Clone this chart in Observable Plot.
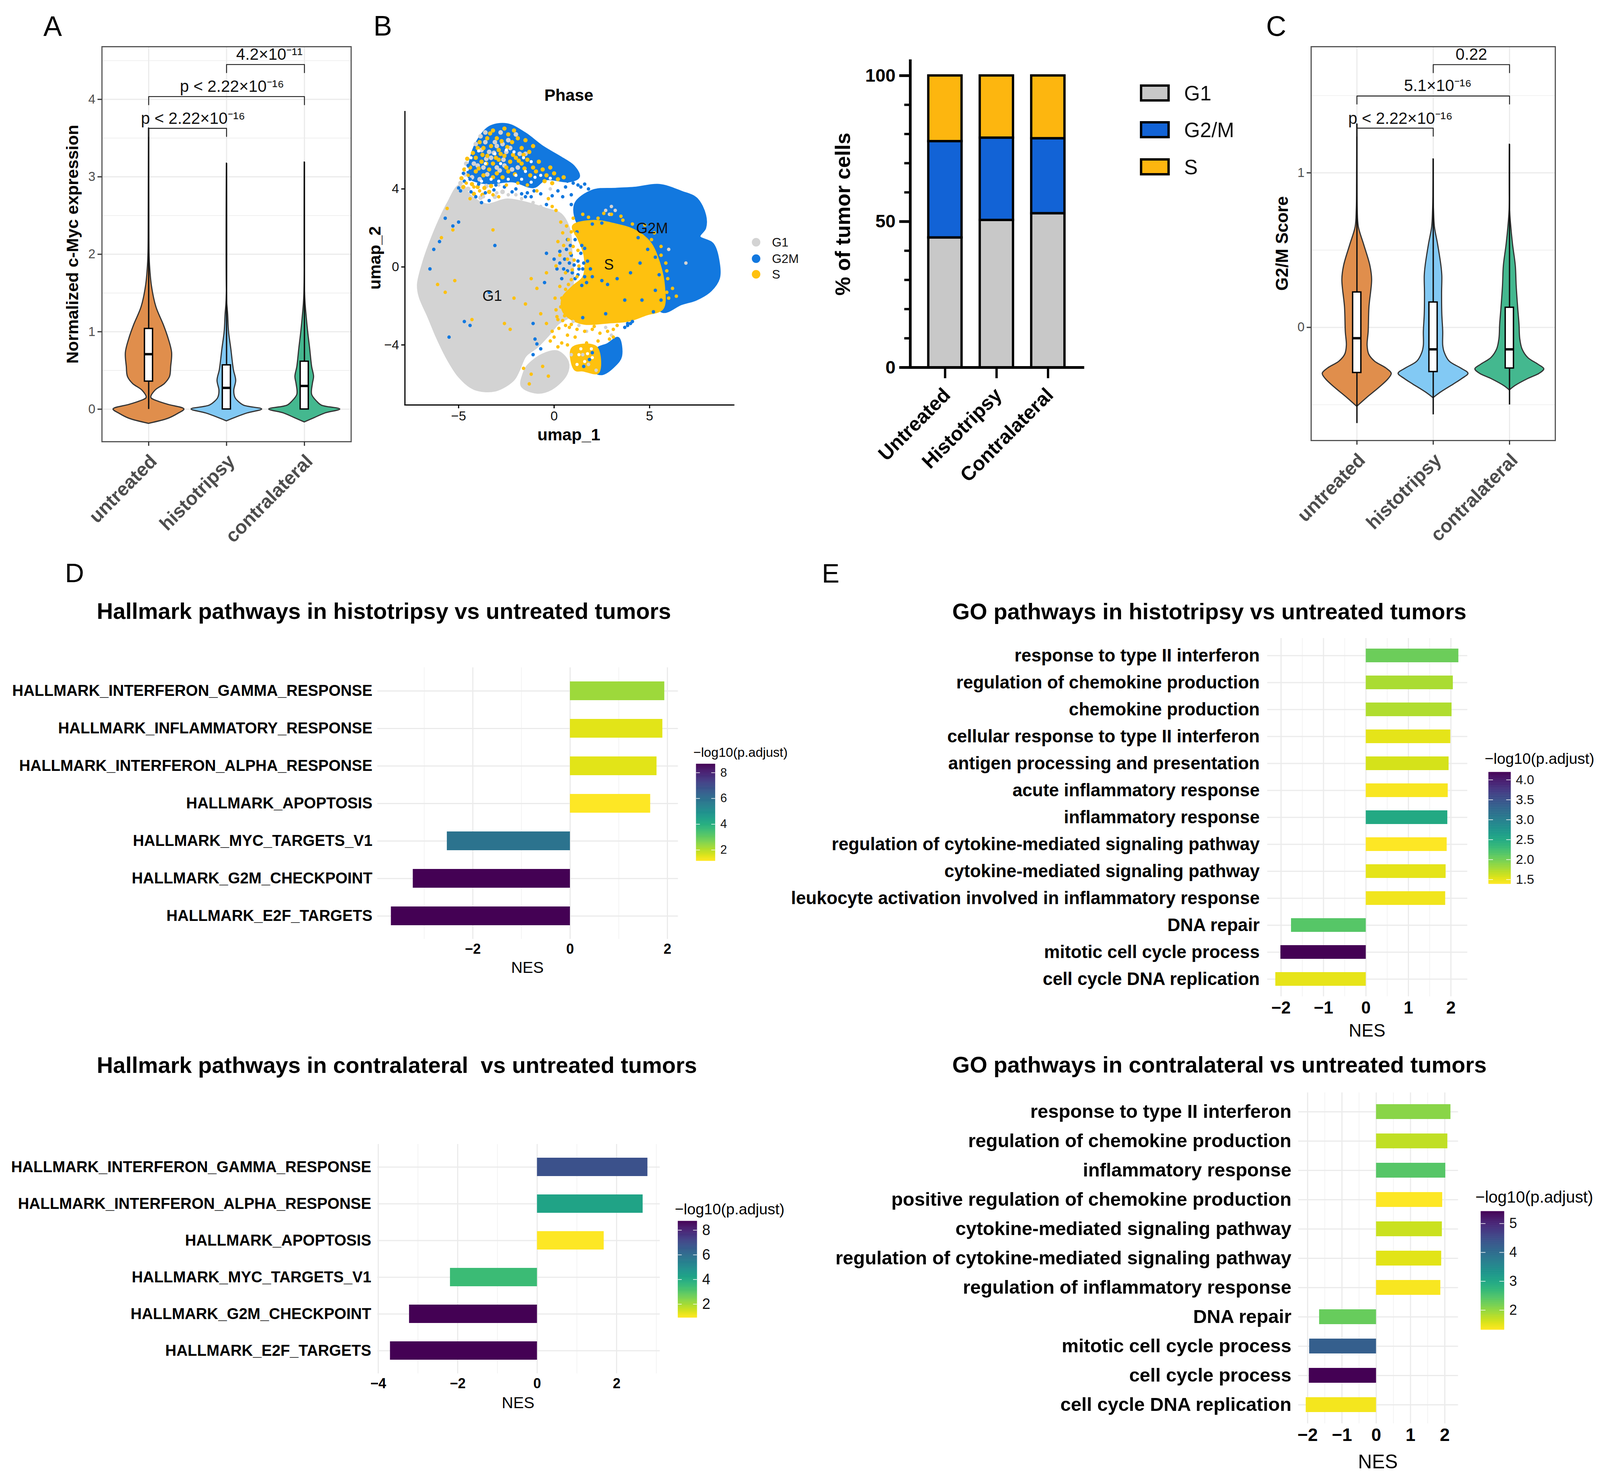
<!DOCTYPE html>
<html>
<head>
<meta charset="utf-8">
<script src="https://cdn.jsdelivr.net/npm/d3@7"></script>
<script src="https://cdn.jsdelivr.net/npm/@observablehq/plot@0.6"></script>
<style>
html,body{margin:0;padding:0;background:#fff;overflow:hidden}
#page{position:relative;width:4135px;height:3793px;overflow:hidden;font-family:"Liberation Sans",Arial,sans-serif;color:#000;transform-origin:0 0}
.lab{position:absolute;white-space:pre;line-height:1}
</style>
</head>
<body>
<div id="page"></div>
<script>
/* ---------- Violins: treatment groups ---------- */
const violinGroups = ["untreated","histotripsy","contralateral"];
const violinColors = ["#E08E4C","#82C9F4","#44B88F"];

/* Panel A: c-Myc expression, value and half-width of each violin */
const mycUntreatedV = [-0.185,-0.12,-0.06,0,0.06,0.10,0.15,0.24,0.33,0.42,0.55,0.73,0.91,1.09,1.32,1.59,1.86,2.04,2.6,3.63];
const mycUntreatedW = [0,0.25,0.37,0.455,0.25,0.125,0.03,0.08,0.205,0.27,0.285,0.297,0.253,0.19,0.095,0.038,0.013,0.006,0.003,0];
const mycHistoV = [-0.153,-0.10,-0.05,0,0.05,0.10,0.15,0.24,0.37,0.51,0.78,1.0,1.23,1.41,3.175];
const mycHistoW = [0,0.13,0.27,0.453,0.22,0.15,0.11,0.095,0.12,0.09,0.057,0.028,0.016,0.003,0];
const mycContraV = [-0.167,-0.11,-0.05,0,0.05,0.10,0.19,0.33,0.42,0.55,0.78,1.0,1.23,1.45,3.19];
const mycContraW = [0,0.13,0.27,0.456,0.22,0.16,0.095,0.105,0.12,0.095,0.07,0.044,0.022,0.006,0];
const mycWhiskerLow = [0,0,0];
const mycWhiskerHigh = [3.63,3.175,3.19];
const mycQ1 = [0.36,0,0];
const mycMedian = [0.71,0.275,0.30];
const mycQ3 = [1.04,0.57,0.617];
const mycBracketFrom = [1,1,2];
const mycBracketTo = [2,3,3];
const mycBracketY = [3.626,4.036,4.45];
const mycBracketLabels = ["p < 2.22×10⁻¹⁶","p < 2.22×10⁻¹⁶","4.2×10⁻¹¹"];
const mycBracketLabelX = [1.57,2.07,2.55];
const mycBracketLabelY = [3.75,4.165,4.58];

/* Panel C: G2/M score */
const scoreUntreatedV = [-0.512,-0.456,-0.388,-0.332,-0.298,-0.264,-0.219,-0.174,-0.117,-0.027,0.13,0.31,0.40,0.537,0.65,0.76,0.94,1.316];
const scoreUntreatedW = [0,0.127,0.293,0.413,0.452,0.383,0.232,0.157,0.136,0.15,0.16,0.195,0.172,0.09,0.021,0.006,0.002,0];
const scoreHistoV = [-0.456,-0.42,-0.366,-0.332,-0.298,-0.264,-0.219,-0.16,-0.117,-0.027,0.086,0.22,0.334,0.40,0.537,0.65,0.76,0.85,1.09];
const scoreHistoW = [0,0.097,0.271,0.377,0.458,0.362,0.211,0.145,0.127,0.127,0.115,0.112,0.115,0.103,0.06,0.018,0.006,0.002,0];
const scoreContraV = [-0.406,-0.377,-0.332,-0.298,-0.269,-0.24,-0.196,-0.14,-0.072,0.018,0.13,0.266,0.40,0.537,0.673,0.76,1.185];
const scoreContraW = [0,0.075,0.241,0.392,0.452,0.377,0.241,0.166,0.136,0.127,0.109,0.09,0.078,0.042,0.015,0.003,0];
const scoreWhiskerLow = [-0.62,-0.564,-0.50];
const scoreWhiskerHigh = [1.316,1.09,1.185];
const scoreQ1 = [-0.293,-0.287,-0.264];
const scoreMedian = [-0.07,-0.142,-0.142];
const scoreQ3 = [0.228,0.163,0.129];
const scoreBracketFrom = [1,1,2];
const scoreBracketTo = [2,3,3];
const scoreBracketY = [1.289,1.497,1.70];
const scoreBracketLabels = ["p < 2.22×10⁻¹⁶","5.1×10⁻¹⁶","0.22"];
const scoreBracketLabelX = [1.57,2.06,2.5];
const scoreBracketLabelY = [1.352,1.562,1.765];

/* ---------- Panel B: UMAP ---------- */
const phaseNames = ["G1","G2M","S"];
const phaseColors = ["#D3D3D3","#1278DF","#FEC10F"];
const umapGreyBody = [[-7.12,-0.89],[-6.81,0.34],[-6.42,1.41],[-6.03,2.33],[-5.57,3.25],[-4.95,4.17],[-4.33,3.6],[-3.55,3.2],[-2.47,3.45],[-1.53,3.3],[-0.45,2.98],[0.35,2.7],[0.8,1.9],[0.9,0.8],[1.0,-0.4],[0.9,-1.5],[0.8,-2.5],[0.2,-2.9],[-0.22,-3.4],[-0.9,-4.1],[-1.5,-4.55],[-1.85,-5.3],[-2.15,-5.8],[-3.09,-6.33],[-4.17,-6.25],[-4.95,-5.64],[-5.57,-4.72],[-6.11,-3.65],[-6.57,-2.57],[-7.04,-1.5]];
const umapGreyLobe = [[-1.4,-5.1],[-0.6,-4.5],[0.17,-4.34],[0.71,-4.87],[0.64,-5.49],[-0.14,-6.25],[-0.91,-6.44],[-1.69,-6.1],[-1.6,-5.5]];
const umapBlueBody = [[1.1,3.2],[2.0,3.9],[3.27,4.0],[4.2,4.05],[5.5,4.2],[6.65,3.85],[7.45,3.5],[7.9,2.65],[7.9,2.0],[7.6,1.55],[8.3,1.18],[8.62,0.18],[8.62,-0.58],[8.2,-1.2],[7.45,-1.66],[6.65,-1.9],[5.7,-2.3],[5.0,-1.5],[3.5,1.0],[1.4,2.0]];
const umapYellowBody = [[1.0,2.1],[2.0,2.35],[3.1,2.2],[4.2,1.87],[5.0,1.26],[5.5,0.18],[5.75,-1.04],[5.67,-2.13],[4.8,-2.44],[3.9,-2.75],[2.95,-2.83],[1.57,-2.9],[0.8,-2.6],[0.45,-2.2],[0.45,-1.6],[1.0,-1.0],[1.55,-0.5],[1.6,0.6],[1.3,1.4]];
const umapLobeBlue = [[-4.4,5.4],[-4.09,6.31],[-3.4,7.16],[-2.47,7.31],[-1.53,6.85],[-0.6,6.16],[0.33,5.62],[1.02,5.16],[1.29,4.63],[0.79,4.4],[-0.45,4.5],[-1.07,4.1],[-2.16,4.4],[-3.55,4.3],[-4.48,4.63]];
const umapLowerBlue = [[3.35,-3.65],[3.5,-4.57],[3.19,-5.03],[2.5,-5.49],[2.11,-5.33],[2.19,-4.26],[2.81,-3.96]];
const umapLowerYellow = [[0.95,-4.18],[2.19,-4.11],[2.3,-5.41],[1.5,-5.3],[1.1,-5.26]];

const umapLobeYellow = [[-3.9,6.4],[-3.7,6.1],[-3.5,6.6],[-3.2,7.0],[-3.3,6.2],[-3.0,6.6],[-2.9,6.0],[-2.6,7.1],[-2.4,6.8],[-2.2,6.4],[-2.1,7.0],[-1.9,6.6],[-1.7,6.1],[-1.5,6.5],[-1.3,5.9],[-1.1,6.2],[-4.1,5.6],[-3.8,5.4],[-3.5,5.7],[-3.2,5.3],[-2.9,5.5],[-2.6,5.7],[-2.3,5.4],[-2.0,5.6],[-1.7,5.3],[-1.4,5.5],[-1.1,5.1],[-0.8,5.4],[-4.4,5.1],[-4.1,4.9],[-3.7,4.7],[-3.4,5.0],[-3.0,4.8],[-2.7,4.6],[-2.4,4.9],[-0.6,5.0],[-0.4,4.7],[-0.2,5.1],[0,4.8],[0.2,4.5],[-0.1,4.3],[-0.5,4.4],[0.5,4.6],[-4.0,6.1],[-3.75,5.75],[-4.25,5.85],[-3.35,6.85],[-2.75,6.45],[-2.45,6.15],[-2.8,5.8],[-3.05,5.6],[-2.15,5.75],[-1.85,5.45],[-1.6,5.75],[-3.95,5.05],[-3.55,5.3],[-3.2,4.6],[-2.5,5.1],[-2.05,4.75],[-1.55,5.05],[-1.25,4.7],[-0.95,4.9],
[-4.7,5.0],[-4.55,5.55],[-4.85,4.55],[-4.75,4.1],[-4.3,4.25],[-4.0,4.1],[-3.65,4.05],[-3.3,4.15],[-4.2,3.75],[-3.75,3.7],[-3.4,3.85]];
const umapLobeGrey = [[-3.8,6.0],[-3.6,6.4],[-3.4,5.9],[-3.1,6.4],[-2.8,6.9],[-2.7,6.3],[-2.5,5.9],[-2.3,6.1],[-2,6.8],[-1.8,5.8],[-4,5.2],[-3.7,5.1],[-3.3,5.6],[-3,5.1],[-2.6,5.2],[-2.2,5],[-1.9,5.1],[-1.5,5.8],[-4.2,5.3],[-3.6,6.9],[-3.0,6.2],[-2.4,6.5],[-4.1,6.3],[-3.85,6.7],[-3.55,5.55],[-3.15,5.85],[-2.65,5.5],[-2.85,4.95],[-3.5,4.75],[-4.3,4.6],[-3.9,4.5],
[-4.6,5.3],[-4.65,4.75],[-4.9,4.3],[-4.5,4.0],[-4.55,3.75],[-3.85,3.55],[-3.1,3.6],[-2.7,3.85],[-3.55,4.15]];
const umapLobeWhite = [[-3.6,5.3],[-3.1,5.8],[-2.8,5.3],[-2.5,6.0],[-2.1,5.9],[-1.6,5.6],[-1.2,5.4],[-3.3,4.5],[-2.9,4.4],[-2.4,4.5],[-2.0,4.7],[-1.5,4.9],[-1.0,4.6],[-0.7,4.7],[-3.8,4.4],[-1.7,4.5],[-0.2,4.55],[-1.2,4.35],[-4.35,5.6],[-4.55,5.0],[-3.95,5.95],
[1.3,-4.5],[1.75,-4.45],[1.2,-5.0],[1.6,-4.85],[2.0,-4.65],[1.4,-4.2],[1.95,-4.2]];
const umapYellowPoints = [[-4.5,4.7],[-4.6,4.3],[-4.2,4.1],[-3.9,3.9],[-4.4,3.5],[-3.2,3.7],[-2.9,3.6],[-2.5,4.2],[-1.9,4.3],[-1.4,4.2],[-0.9,3.9],[-0.3,3.5],[-0.1,3.1],[0.1,2.9],
[-5.6,3.0],[-5.3,1.9],[-5.9,1.5],[-6.1,-0.9],[-5.7,-1.3],[-5.2,-0.7],[-4.3,-2.7],[-3.2,1.9],[-2.6,-2.9],[-2.1,-1.6],[-2.3,-3.2],[-1.5,-1.9],[-1.2,-0.6],[-0.9,-1.1],[-0.7,-2.4],[-0.4,-2.9],[-0.4,-0.3],[0.05,-1.6],[0.2,-2.7],[0.1,-2.2],[-0.1,-3.3],[-0.2,-3.8],[0,-3.6],[0.4,-3.9],[0.2,-4.1],[-1.2,-5.5],[-1.3,-6.0],[-1.6,-5.2],[-0.6,-5.1],[-0.3,-5.6],
[0.3,0.6],[0.5,1.1],[0.7,0.4],[0.6,-0.3],[0.75,-0.9],[0.4,-1.6],[0.55,-2.5],[0.8,-3.1],[1.2,-3.2],[1.6,-3.3],[2,-3.2],[2.4,-3.4],[2.8,-3.3],[3.1,-3.2],[0.7,-3.5],[1.1,-3.6],[1.7,-3.9],[2.3,-3.8],[2.9,-3.7],[3.1,-3.6],[0.7,-4.0],
[1.0,2.5],[1.5,2.7],[2.3,2.5],[3.0,2.7],[3.6,2.4],[4.1,2.2],[4.6,1.6],[5.1,1.4],[5.6,0.6],[5.9,-0.2],[6.2,-1.1],[6.0,-1.6],[6.4,-1.5],
[0.9,1.8],[1.15,1.7],[0.75,1.4],[1.0,1.05],[1.25,0.85],[0.85,0.7],[1.05,0.35],[1.3,0.05],[0.95,-0.15],[1.2,-0.5],[0.9,-0.65],[0.6,-1.15],[0.3,-1.0],[0.35,-2.05],[0.15,-2.55],[0.45,-2.75],[0.25,-3.15],[0.6,-3.0],[0.1,0.05],[0.2,1.3],[0.45,1.75],[0.65,2.1],[0.35,2.3],
[5.85,0.2],[5.95,-0.6],[5.9,-1.3],[5.6,1.05],[5.25,1.75],[4.75,2.15],[3.5,2.6],[2.6,2.75],[1.8,2.55],[0.9,-2.95],[2.1,-3.05],[3.3,-3.0]];
const umapBluePoints = [[-4.7,4.4],[-4.4,4.5],[-4.9,3.9],[-4.1,3.6],[-3.8,3.3],[-3.6,3.8],[-3.4,3.4],[-2.0,4.0],[-1.4,3.8],[-1.5,3.6],[-1.2,3.6],[-0.4,3.2],[0.2,3.9],[0.6,4.1],[0.9,3.7],[1.4,4.1],[1.8,4.0],[0.9,3.2],[-5.7,2.5],[-5.3,2.1],[-5.0,2.3],[-6.0,1.3],[-6.3,0.9],[-6.5,-0.1],[-5.5,-3.6],[-4.7,-2.8],[-4.4,-3.0],[-3.4,-1.3],[-3.1,1.1],[-1.1,-2.9],[-0.5,-0.8],[-0.4,0.7],
[0,0.4],[0.15,-0.1],[0.3,0.2],[0.3,0.8],[0.4,-0.6],[0.5,-0.1],[0.55,0.4],[0.65,0.9],[0.7,-0.2],[0.8,0.2],[0.9,0.6],[0.95,-0.3],[1.05,0.1],[1.1,-0.6],[1.25,0.3],[1.3,-0.1],[1.4,0.7],[1.45,1.1],[1.1,1.4],[0.85,1.1],[0.7,1.4],[1.25,-0.4],[1.55,0.2],[1.6,-0.5],[1.2,1.8],[1.5,-0.1],[1.75,0.3],[1.6,0.95],[1.9,-0.1],[1.7,-0.8],[1.45,-0.95],[2.0,-0.5],
[-1.1,-4.5],[-0.9,-3.95],[-0.7,-4.2],[-1.0,-3.7],[3.7,-3.1],[3.85,-3.0],[4.0,-2.9],[4.1,-2.8],[3.85,-2.9],
[1.5,-2.6],[2.7,-2.4],[3.7,-1.7],[4.6,-1.7],[5.2,-2.3],[5.6,-1.7],[5.3,-1.2],[4.5,0.2],[4.0,-0.3],[3.3,-0.6],[2.5,-0.7],[2.8,-0.9],[4.9,0.9],[4.4,1.5],[5.3,0.5],[5.5,-0.4],[3.0,2.4],[2.5,2.25],[2.0,2.2],
[-2.6,4.1],[-2.2,3.85],[-1.7,3.75],[-1.05,3.9],[-0.7,3.75],[-0.1,3.65],[0.45,3.6],[0.7,4.4],[1.0,4.3],[1.25,4.2],[1.6,4.25],[-3.05,4.2],
[-4.75,4.8],[-4.5,5.2],[-5.0,4.05],[-4.35,3.85],[-3.95,4.25],[-3.15,3.95],[1.85,-4.75],[1.55,-5.1],[2.0,-4.4]];
const umapGreyPoints = [[-2.9,4.2],[-2.4,3.7],[-2.0,3.7],[-1.7,3.5],[-1.1,3.3],[-0.7,3.1],[-0.2,4.0],[-3.0,3.8],[-3.7,3.6],[-4.6,4.0],
[2.9,2.7],[3.2,2.9],[3.0,3.1],[2.7,2.9],[6.0,0.9],[6.9,0.2],[1.7,-3.3],[2.7,-3.1],[3.0,-3.5],[1.5,-4.5],[1.8,-5.0],[2.2,-5.3],[0.8,-0.7],[0.5,0.1],[0.2,-0.7],[1.3,-3.0],[1.0,-2.8],[0.9,-4.5]];
const umapClusterLabels = ["G1","S","G2M"];
const umapClusterX = [-3.24,2.87,5.13];
const umapClusterY = [-1.5,0.11,1.98];

/* ---------- Panel B: stacked bars ---------- */
const stackGroups = ["Untreated","Histotripsy","Contralateral"];
const stackPhases = ["G1","G2/M","S"];
const stackColors = ["#C8C8C8","#1263D6","#FDB60F"];
const stackG1 = [44.5,50.5,52.8];
const stackG2M = [33.0,28.2,25.7];
const stackS = [22.5,21.3,21.5];

/* ---------- Panels D, E: enrichment ---------- */
const hallmarkHistoNames = ["HALLMARK_INTERFERON_GAMMA_RESPONSE","HALLMARK_INFLAMMATORY_RESPONSE","HALLMARK_INTERFERON_ALPHA_RESPONSE","HALLMARK_APOPTOSIS","HALLMARK_MYC_TARGETS_V1","HALLMARK_G2M_CHECKPOINT","HALLMARK_E2F_TARGETS"];
const hallmarkHistoNES = [1.94,1.90,1.78,1.65,-2.53,-3.23,-3.68];
const hallmarkHistoP = [2.25,1.5,1.5,1.15,5.8,8.67,8.67];

const hallmarkContraNames = ["HALLMARK_INTERFERON_GAMMA_RESPONSE","HALLMARK_INTERFERON_ALPHA_RESPONSE","HALLMARK_APOPTOSIS","HALLMARK_MYC_TARGETS_V1","HALLMARK_G2M_CHECKPOINT","HALLMARK_E2F_TARGETS"];
const hallmarkContraNES = [2.78,2.66,1.68,-2.19,-3.22,-3.70];
const hallmarkContraP = [6.8,4.2,0.9,3.4,8.73,8.73];

const goHistoNames = ["response to type II interferon","regulation of chemokine production","chemokine production","cellular response to type II interferon","antigen processing and presentation","acute inflammatory response","inflammatory response","regulation of cytokine-mediated signaling pathway","cytokine-mediated signaling pathway","leukocyte activation involved in inflammatory response","DNA repair","mitotic cell cycle process","cell cycle DNA replication"];
const goHistoNES = [2.18,2.05,2.02,1.99,1.95,1.93,1.92,1.905,1.88,1.87,-1.76,-2.01,-2.13];
const goHistoP = [2.02,1.75,1.72,1.5,1.57,1.42,2.5,1.39,1.5,1.45,2.13,4.19,1.49];

const goContraNames = ["response to type II interferon","regulation of chemokine production","inflammatory response","positive regulation of chemokine production","cytokine-mediated signaling pathway","regulation of cytokine-mediated signaling pathway","regulation of inflammatory response","DNA repair","mitotic cell cycle process","cell cycle process","cell cycle DNA replication"];
const goContraNES = [2.17,2.08,2.02,1.93,1.92,1.90,1.875,-1.66,-1.95,-1.96,-2.05];
const goContraP = [2.05,1.72,2.4,1.32,1.65,1.5,1.36,2.28,4.19,5.42,1.40];

/* ---------- Helpers ---------- */
const page = document.getElementById("page");
/* The browser window may be narrower than the reference: squeeze the page into it */
page.style.transform = `scale(${Math.min(1,window.innerWidth/4135)},1)`;
const FONT = '"Liberation Sans",Arial,sans-serif';
const signed = d => d<0 ? `−${-d}` : `${d}`;

function place(frame, m, options) {
  const [L,T,R,B] = frame;
  const svg = Plot.plot({
    width:R-L+m[0]+m[2], height:B-T+m[1]+m[3],
    marginLeft:m[0], marginTop:m[1], marginRight:m[2], marginBottom:m[3],
    style:{position:"absolute",left:(L-m[0])+"px",top:(T-m[1])+"px",background:"transparent",overflow:"visible",fontFamily:FONT,maxWidth:"none"},
    ...options
  });
  page.appendChild(svg);
  return svg;
}
function label(text,x,y,o={}) {
  const d = document.createElement("div");
  d.className = "lab";
  d.textContent = text;
  const anchor = o.anchor || "center";
  const tx = anchor==="left" ? "0" : anchor==="right" ? "-100%" : "-50%";
  d.style.cssText = `left:${x}px;top:${y}px;font-size:${o.size||40}px;font-weight:${o.bold?"bold":"normal"};color:${o.color||"#000"};transform:translate(${tx},-50%)${o.rotate?` rotate(${o.rotate}deg)`:""};`;
  page.appendChild(d);
  if (o.w) d.style.fontSize = ((o.size||40)*o.w/d.offsetWidth)+"px";
  return d;
}
function violinPanel(cfg) {
  const rows = [];
  cfg.v.forEach((vs,g)=>vs.forEach((y,i)=>rows.push({g,y,lo:g+1-cfg.w[g][i],hi:g+1+cfg.w[g][i]})));
  const ids = [0,1,2];
  const brackets = [];
  cfg.bFrom.forEach((a,i)=>{
    const b = cfg.bTo[i], y = cfg.bY[i], t = y-cfg.tip;
    [[a,t],[a,y],[b,y],[b,t]].forEach(([x,yy])=>brackets.push({i,x,y:yy}));
  });
  place(cfg.frame,[40,10,40,340],{
    x:{domain:[0.4,3.6],axis:null},
    y:{domain:cfg.yd,axis:null},
    color:{domain:ids,range:violinColors},
    marks:[
      Plot.ruleY(cfg.minor,{stroke:"#EDEDED",strokeWidth:1.6}),
      Plot.ruleY(cfg.major,{stroke:"#EBEBEB",strokeWidth:3}),
      Plot.ruleX([1,2,3],{stroke:"#EBEBEB",strokeWidth:3}),
      Plot.areaX(rows,{y:"y",x1:"lo",x2:"hi",z:"g",fill:"g",stroke:"#333",strokeWidth:3,curve:"catmull-rom"}),
      Plot.ruleX(ids,{x:g=>g+1,y1:g=>cfg.wLow[g],y2:g=>cfg.wHigh[g],stroke:"#111",strokeWidth:3.5}),
      Plot.rect(ids,{x1:g=>g+1-cfg.bw,x2:g=>g+1+cfg.bw,y1:g=>cfg.q1[g],y2:g=>cfg.q3[g],fill:"white",stroke:"#000",strokeWidth:3.5}),
      Plot.ruleY(ids,{y:g=>cfg.med[g],x1:g=>g+1-cfg.bw,x2:g=>g+1+cfg.bw,stroke:"#000",strokeWidth:6}),
      Plot.line(brackets,{x:"x",y:"y",z:"i",stroke:"#222",strokeWidth:2.4}),
      Plot.text(cfg.bLab,{x:(d,i)=>cfg.bLabX[i],y:(d,i)=>cfg.bLabY[i],text:d=>d,fontSize:42,fill:"#111"}),
      Plot.frame({stroke:"#555",strokeWidth:3}),
      Plot.axisY({ticks:cfg.major,tickFormat:signed,tickSize:11,tickPadding:6,strokeWidth:3,stroke:"#333",fill:"#4D4D4D",fontSize:33,label:null}),
      Plot.axisX({ticks:[1,2,3],tickFormat:()=>"",tickSize:11,strokeWidth:3,stroke:"#333",label:null}),
      Plot.text(violinGroups,{x:(d,i)=>i+1,frameAnchor:"bottom",dx:13,dy:42,rotate:-45,textAnchor:"end",lineAnchor:"middle",text:d=>d,fill:"#4D4D4D",fontSize:49,fontWeight:"bold"})
    ]
  });
}
function colorBar(frame,domain,ticks,fmt,fontSize) {
  const n = 120, dv = (domain[1]-domain[0])/n;
  const steps = d3.range(n).map(i=>domain[0]+i*dv);
  place(frame,[2,2,110,2],{
    x:{domain:[0,1],axis:null},
    y:{domain,axis:null},
    color:{type:"linear",scheme:"viridis",reverse:true,domain},
    marks:[
      Plot.rect(steps,{x1:0,x2:1,y1:d=>d,y2:d=>d+dv,fill:d=>d,stroke:d=>d,strokeWidth:0.6}),
      Plot.ruleY(ticks,{x1:0,x2:0.2,stroke:"#fff",strokeWidth:1.5}),
      Plot.ruleY(ticks,{x1:0.8,x2:1,stroke:"#fff",strokeWidth:1.5}),
      Plot.axisY({anchor:"right",ticks,tickSize:0,tickPadding:13,tickFormat:fmt,fontSize,fill:"#111",label:null})
    ]
  });
}
function barPanel(c) {
  const ids = d3.range(c.names.length);
  place(c.frame,[1000,6,10,120],{
    x:{domain:c.xd,axis:null},
    y:{type:"band",domain:c.names,paddingInner:0.5,paddingOuter:0.35,axis:null},
    color:{type:"linear",scheme:"viridis",reverse:true,domain:c.cd},
    marks:[
      Plot.ruleX(c.minor,{stroke:"#F0F0F0",strokeWidth:1.5}),
      Plot.ruleX(c.major,{stroke:"#EBEBEB",strokeWidth:3}),
      Plot.ruleY(c.names,{stroke:"#EBEBEB",strokeWidth:3}),
      Plot.barX(ids,{x1:0,x2:i=>c.nes[i],y:i=>c.names[i],fill:i=>c.p[i]}),
      Plot.axisY({tickSize:0,tickPadding:c.pad,fontSize:c.labSize,fontWeight:"bold",fill:"#000",label:null}),
      Plot.axisX({ticks:c.major,tickFormat:signed,tickSize:0,tickPadding:c.tickPad,fontSize:c.tickSize,fontWeight:"bold",fill:"#000",label:null})
    ]
  });
  label(c.title,c.titleX,c.titleY,{anchor:"left",bold:true,size:54,w:c.titleW});
  label("NES",c.nesX,c.nesY,{size:c.nesSize});
  label("−log10(p.adjust)",c.legX,c.legY,{anchor:"left",size:33,w:c.legW});
  colorBar(c.barFrame,c.cd,c.cticks,c.cfmt||(d=>d),c.cSize);
}

/* ---------- Panel letters ---------- */
label("A",112,67,{anchor:"left",size:72});
label("B",965,66,{anchor:"left",size:72});
label("C",3272,67,{anchor:"left",size:72});
label("D",168,1466,{anchor:"left",size:68});
label("E",2124,1467,{anchor:"left",size:68});

/* ---------- A ---------- */
violinPanel({
  frame:[263,119,907,1130], yd:[-0.42,4.68],
  major:[0,1,2,3,4], minor:[0.5,1.5,2.5,3.5,4.5],
  v:[mycUntreatedV,mycHistoV,mycContraV], w:[mycUntreatedW,mycHistoW,mycContraW],
  wLow:mycWhiskerLow, wHigh:mycWhiskerHigh, q1:mycQ1, med:mycMedian, q3:mycQ3, bw:0.052,
  bFrom:mycBracketFrom, bTo:mycBracketTo, bY:mycBracketY, tip:0.105,
  bLab:mycBracketLabels, bLabX:mycBracketLabelX, bLabY:mycBracketLabelY
});
label("Normalized c-Myc expression",188,625,{bold:true,size:43.5,rotate:-90});

/* ---------- C ---------- */
violinPanel({
  frame:[3388,119,4019,1127], yd:[-0.732,1.816],
  major:[0,1], minor:[-0.5,0.5,1.5],
  v:[scoreUntreatedV,scoreHistoV,scoreContraV], w:[scoreUntreatedW,scoreHistoW,scoreContraW],
  wLow:scoreWhiskerLow, wHigh:scoreWhiskerHigh, q1:scoreQ1, med:scoreMedian, q3:scoreQ3, bw:0.054,
  bFrom:scoreBracketFrom, bTo:scoreBracketTo, bY:scoreBracketY, tip:0.052,
  bLab:scoreBracketLabels, bLabX:scoreBracketLabelX, bLabY:scoreBracketLabelY
});
label("G2/M Score",3313,623,{bold:true,size:44,rotate:-90});

/* ---------- B: UMAP ---------- */
const blob = (pts,i)=>Plot.line(pts,{fill:phaseColors[i],stroke:phaseColors[i],strokeWidth:6,curve:"catmull-rom-closed"});
const spots = (pts,color,r=4)=>Plot.dot(pts,{r,fill:color,stroke:null});
place([1046,285,1896,1036],[100,6,6,60],{
  x:{domain:[-7.81,9.41],axis:null},
  y:{domain:[-7.08,7.97],axis:null},
  marks:[
    blob(umapBlueBody,1),
    blob(umapGreyBody,0),
    blob(umapGreyLobe,0),
    blob(umapLobeBlue,1),
    blob(umapLowerBlue,1),
    blob(umapYellowBody,2),
    blob(umapLowerYellow,2),
    spots(umapLobeGrey,phaseColors[0],6),
    spots(umapLobeYellow,phaseColors[2],5.5),
    spots(umapLobeWhite,"#fff",4),
    spots(umapGreyPoints,phaseColors[0],4.5),
    spots(umapBluePoints,phaseColors[1],4.5),
    spots(umapYellowPoints,phaseColors[2],4.5),
    Plot.text(umapClusterLabels,{x:(d,i)=>umapClusterX[i],y:(d,i)=>umapClusterY[i],text:d=>d,fontSize:38,fill:"#111"}),
    Plot.frame({anchor:"left",stroke:"#000",strokeWidth:3}),
    Plot.frame({anchor:"bottom",stroke:"#000",strokeWidth:3}),
    Plot.axisX({ticks:[-5,0,5],tickFormat:signed,tickSize:9,tickPadding:6,strokeWidth:3,fontSize:34,fill:"#111",stroke:"#000",label:null}),
    Plot.axisY({ticks:[-4,0,4],tickFormat:signed,tickSize:9,tickPadding:6,strokeWidth:3,fontSize:34,fill:"#111",stroke:"#000",label:null})
  ]
});
label("Phase",1470,243,{bold:true,size:43});
label("umap_1",1470,1112,{bold:true,size:43});
label("umap_2",969,660,{bold:true,size:43,rotate:-90});
phaseNames.forEach((name,i)=>{
  const y = [620,662,702][i];
  const d = document.createElement("div");
  d.style.cssText = `position:absolute;left:1943px;top:${y-11}px;width:22px;height:22px;border-radius:50%;background:${phaseColors[i]}`;
  page.appendChild(d);
  label(name,1995,y,{anchor:"left",size:32,color:"#111"});
});

/* ---------- B: stacked bars ---------- */
const stackRows = [];
stackGroups.forEach((g,i)=>{
  stackRows.push({g,phase:stackPhases[0],v:stackG1[i]});
  stackRows.push({g,phase:stackPhases[1],v:stackG2M[i]});
  stackRows.push({g,phase:stackPhases[2],v:stackS[i]});
});
place([2352,155,2798,940],[180,6,6,320],{
  x:{type:"band",domain:stackGroups,padding:0.353,axis:null},
  y:{domain:[0,105.1],axis:null},
  color:{domain:stackPhases,range:stackColors},
  marks:[
    Plot.barY(stackRows,{x:"g",y:"v",fill:"phase",stroke:"#000",strokeWidth:6,order:null}),
    Plot.frame({anchor:"left",stroke:"#000",strokeWidth:7}),
    Plot.frame({anchor:"bottom",stroke:"#000",strokeWidth:7}),
    Plot.axisY({ticks:[10,20,30,40,60,70,80,90],tickSize:15,strokeWidth:6,stroke:"#000",tickFormat:()=>"",label:null}),
    Plot.axisY({ticks:[0,50,100],tickFormat:signed,tickSize:28,tickPadding:10,strokeWidth:7,stroke:"#000",fill:"#000",fontSize:47,fontWeight:"bold",label:null}),
    Plot.axisX({tickSize:28,tickFormat:()=>"",strokeWidth:6,stroke:"#000",label:null}),
    Plot.text(stackGroups,{x:d=>d,frameAnchor:"bottom",dx:5,dy:62,rotate:-45,textAnchor:"end",lineAnchor:"middle",text:d=>d,fill:"#000",fontSize:51,fontWeight:"bold"})
  ]
});
label("% of tumor cells",2178,548,{bold:true,size:54,rotate:-90});
stackPhases.forEach((name,i)=>{
  const y = [238,332,427][i];
  const d = document.createElement("div");
  d.style.cssText = `position:absolute;left:2946px;top:${y-22}px;width:77px;height:44px;box-sizing:border-box;border:6px solid #000;background:${stackColors[i]}`;
  page.appendChild(d);
  label(name,3060,y,{anchor:"left",size:53,color:"#111"});
});

/* ---------- D ---------- */
barPanel({
  names:hallmarkHistoNames,nes:hallmarkHistoNES,p:hallmarkHistoP,
  frame:[975,1708,1752,2403],xd:[-3.96,2.22],major:[-2,0,2],minor:[-3,-1,1],cd:[1.15,8.67],
  pad:13,labSize:40,tickPad:12,tickSize:36,
  title:"Hallmark pathways in histotripsy vs untreated tumors",titleX:250,titleY:1564,titleW:1484,
  nesX:1363,nesY:2476,nesSize:41,legX:1792,legY:1926,legW:244,
  barFrame:[1799,1955,1848,2203],cticks:[2,4,6,8],cSize:31
});
barPanel({
  names:hallmarkContraNames,nes:hallmarkContraNES,p:hallmarkContraP,
  frame:[975,2928,1705,3515],xd:[-4.02,3.09],major:[-4,-2,0,2],minor:[-3,-1,1,3],cd:[0.9,8.73],
  pad:16,labSize:40,tickPad:12,tickSize:36,
  title:"Hallmark pathways in contralateral  vs untreated tumors",titleX:250,titleY:2726,titleW:1551,
  nesX:1339,nesY:3590,nesSize:41,legX:1744,legY:3095,legW:284,
  barFrame:[1752,3125,1801,3372],cticks:[2,4,6,8],cSize:38
});

/* ---------- E ---------- */
barPanel({
  names:goHistoNames,nes:goHistoNES,p:goHistoP,
  frame:[3275,1633,3792,2550],xd:[-2.32,2.39],major:[-2,-1,0,1,2],minor:[-1.5,-0.5,0.5,1.5],cd:[1.39,4.19],
  pad:20,labSize:46,tickPad:12,tickSize:44,
  title:"GO pathways in histotripsy vs untreated tumors",titleX:2461,titleY:1565,titleW:1329,
  nesX:3533,nesY:2637,nesSize:46,legX:3837,legY:1942,legW:284,
  barFrame:[3847,1976,3904,2262],cticks:[1.5,2,2.5,3,3.5,4],cfmt:d3.format(".1f"),cSize:34
});
barPanel({
  names:goContraNames,nes:goContraNES,p:goContraP,
  frame:[3355,2796,3768,3643],xd:[-2.27,2.39],major:[-2,-1,0,1,2],minor:[-1.5,-0.5,0.5,1.5],cd:[1.32,5.42],
  pad:18,labSize:49,tickPad:12,tickSize:46,
  title:"GO pathways in contralateral vs untreated tumors",titleX:2461,titleY:2725,titleW:1381,
  nesX:3561,nesY:3741,nesSize:50,legX:3813,legY:3064,legW:305,
  barFrame:[3827,3100,3887,3403],cticks:[2,3,4,5],cSize:36
});
</script>
</body>
</html>
